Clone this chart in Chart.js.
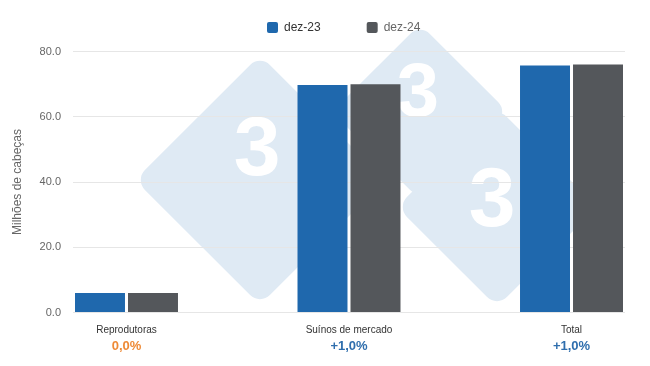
<!DOCTYPE html>
<html><head><meta charset="utf-8">
<script src="https://cdn.jsdelivr.net/npm/chart.js@4.4.1/dist/chart.umd.min.js"></script>
<style>html,body{margin:0;padding:0;background:#fff}#wrap{width:650px;height:366px}</style>
</head><body><div id="wrap"><canvas id="c" width="650" height="366"></canvas></div>
<script>
const categories = ['Reprodutoras', 'Suínos de mercado', 'Total'];
const seriesNames = ['dez-23', 'dez-24'];
const dez23 = [6.0, 69.7, 75.7];
const dez24 = [6.0, 70.0, 76.0];
const changes = ['0,0%', '+1,0%', '+1,0%'];
const changeColors = ['#ee8a36', '#2f6ead', '#2f6ead'];
const yTicks = [0, 20, 40, 60, 80];
const barColors = ['#1f68ad', '#54575b'];
const legendTextColors = ['#333333', '#666666'];

Chart.defaults.font.family = "'Liberation Sans', Arial, sans-serif";

const catTicks = (s) => { s.ticks = categories.map((c, i) => ({ value: i })); };
const xMin = -0.2404, xMax = 2.2404;

const watermark = {
  id: 'watermark',
  beforeDraw(chart) {
    const ctx = chart.ctx;
    const shapes = [[260, 180, 125, 257, 152, 84], [420, 112, 88, 418, 95, 76], [497, 207, 100, 492, 203, 84]];
    ctx.save();
    ctx.fillStyle = '#dfeaf4';
    shapes.forEach(([cx, cy, r]) => {
      const s = r * Math.SQRT2;
      ctx.save(); ctx.translate(cx, cy); ctx.rotate(Math.PI / 4);
      ctx.beginPath(); ctx.roundRect(-s / 2, -s / 2, s, s, 14); ctx.fill();
      ctx.restore();
    });
    ctx.fillStyle = '#ffffff';
    ctx.textAlign = 'center'; ctx.textBaseline = 'middle';
    shapes.forEach(([, , , tx, ty, fs]) => {
      ctx.font = 'bold ' + fs + "px 'Liberation Sans', Arial, sans-serif";
      ctx.fillText('3', tx, ty);
    });
    ctx.restore();
  }
};

const legendPlace = {
  id: 'legendPlace',
  afterUpdate(chart) {
    const lg = chart.legend;
    const p = lg.options.labels.padding;
    lg.left = 267 - p;
    lg.top = 21.5 - p;
  }
};

new Chart(document.getElementById('c'), {
  type: 'bar',
  data: {
    datasets: [
      { label: seriesNames[0], data: categories.map((c, i) => ({ x: i, y: dez23[i] })), backgroundColor: barColors[0], categoryPercentage: 0.4764, barPercentage: 0.943 },
      { label: seriesNames[1], data: categories.map((c, i) => ({ x: i, y: dez24[i] })), backgroundColor: barColors[1], categoryPercentage: 0.4764, barPercentage: 0.943 }
    ]
  },
  options: {
    responsive: false,
    animation: false,
    layout: { padding: { top: 0.5, bottom: 9.5, left: 0, right: 25 } },
    plugins: {
      tooltip: { enabled: false },
      legend: {
        position: 'top',
        align: 'start',
        maxHeight: 51,
        labels: {
          boxWidth: 11, boxHeight: 11, padding: 46,
          useBorderRadius: true, borderRadius: 2,
          font: { size: 12 },
          generateLabels: (chart) => Chart.defaults.plugins.legend.labels.generateLabels(chart)
            .map((l, i) => Object.assign(l, { fontColor: legendTextColors[i], lineWidth: 0 }))
        }
      }
    },
    scales: {
      x: {
        type: 'linear', position: 'bottom', weight: 0, offset: false,
        min: xMin, max: xMax,
        afterBuildTicks: catTicks,
        ticks: { callback: (v) => categories[v], font: { size: 10 }, color: '#333', padding: 12, autoSkip: false, maxRotation: 0 },
        grid: { display: false, drawTicks: false },
        border: { display: false },
        afterFit: (s) => { s.height = 24; }
      },
      x2: {
        type: 'linear', position: 'bottom', weight: 1, offset: false,
        min: xMin, max: xMax,
        afterBuildTicks: catTicks,
        ticks: { callback: (v) => changes[v], font: { size: 13, weight: 'bold' }, color: (c) => changeColors[c.index], padding: 2, autoSkip: false, maxRotation: 0 },
        grid: { display: false, drawTicks: false },
        border: { display: false },
        afterFit: (s) => { s.height = 20; }
      },
      y: {
        min: 0, max: 80,
        afterBuildTicks: (s) => { s.ticks = yTicks.map(v => ({ value: v })); },
        ticks: { callback: (v) => Number(v).toFixed(1), font: { size: 11 }, color: '#666', padding: 12 },
        grid: { color: '#e6e6e6', drawTicks: false },
        border: { display: false },
        title: { display: true, text: 'Milhões de cabeças', font: { size: 12 }, color: '#666', padding: { top: 10, bottom: 0 } },
        afterFit: (s) => { s.width = 73; }
      }
    }
  },
  plugins: [watermark, legendPlace]
});
</script>
</body></html>
